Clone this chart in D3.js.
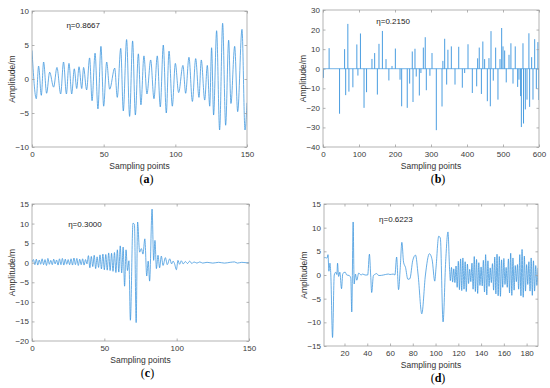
<!DOCTYPE html>
<html>
<head>
<meta charset="utf-8">
<script src="https://cdn.jsdelivr.net/npm/d3@7"></script>
<style>
  body { margin: 0; background: #fff; }
</style>
</head>
<body>
<div id="chart-area"></div>
<script>
// (a) extrema of the waveform, [sample, amplitude]
const aPoints = [[0,4.2],[3,-2.9],[4.6,1.9],[6.5,-2.4],[8.1,2.5],[10.2,-2.1],[12.3,1.0],[15.1,-1.2],[17.4,1.7],[20,-2.2],[22,2.5],[24,-2.2],[25.8,2.3],[27.7,-2.2],[29.5,1.5],[31.2,-1.4],[32.8,1.8],[34.7,-1.4],[36,1.7],[38.1,-1.6],[40.2,3.1],[41.9,-3.2],[44,3.8],[46,-4.4],[48.1,4.8],[50,-4.0],[52.1,2.5],[54.2,-1.5],[57.7,1.6],[59.5,-2.7],[61.9,4.5],[63.7,-4.7],[66,5.8],[68.1,-5.5],[70.2,5.6],[72.1,-5.3],[74.2,3.7],[76,-3.8],[78.1,3.4],[80.2,-2.2],[82.8,2.8],[85.1,-2.9],[87.4,3.4],[89.5,-4.1],[91.6,5.0],[93.7,-5.0],[95.6,4.1],[97.9,-4.0],[100,2.3],[102.3,-2.0],[105.3,2.0],[107.2,-2.1],[109.5,3.2],[111.9,-3.3],[114.2,3.0],[116.5,-2.7],[118.1,2.8],[120.5,-3.1],[122.3,2.0],[124,-4.0],[125.3,4.6],[126.7,-5.3],[128.8,7.1],[130.9,-7.5],[133,8.2],[135.1,-6.8],[137.2,5.7],[138.8,-3.6],[141.4,4.8],[143.5,-4.8],[146.5,7.3],[148.6,-7.5],[150,-3.5]]

// (b) spikes off the zero line, [sample, amplitude]
const bSpikes = [[1,-4.7],[17,10.5],[46,-23],[60,10],[63,-13.5],[69,22.9],[72,-11.7],[83,-9.5],[94,12.4],[97,-3.5],[104,18],[114,-20],[121,-12],[136,5],[143.5,8],[151,-13.2],[155.5,12.7],[165,19.3],[175,4.9],[183,-6],[191.7,1.4],[201,10.3],[214,-5.6],[218.5,-19.2],[234,-20],[240.7,-7.6],[248,8.8],[250,-17],[255.5,10.2],[259,-4],[267.6,-13.7],[272,-2.2],[278.7,10.8],[284,16.1],[287,-11],[297,-3.6],[302.8,8],[314.8,-31.4],[330.6,-19.3],[333,4],[338,15.3],[343.5,-8.1],[347,9.7],[356.5,11.4],[366.7,-8.1],[377,11.2],[387,-9.7],[393.5,-2.2],[402.8,12.5],[414.8,-12.4],[426.9,-9],[429.6,5.3],[434,10.8],[440,-12.9],[444,13.9],[449,4.9],[456.5,-16.6],[461,5.4],[464.8,-19.2],[466.7,19.2],[473,-6.1],[479.6,10.8],[486,-15.8],[491.7,4.9],[496.3,20.8],[500,11.4],[504.6,9.3],[509,-7],[516.7,7.1],[522,13],[527.8,-7.6],[534,11.4],[540.7,-9.3],[544.4,-5.6],[549,-14],[551,-29.8],[555.5,13],[557,-28],[562,-20.8],[566.7,-15.8],[572,18.1],[574,-19.5],[579.6,5.9],[583.3,-15.8],[588,15.1],[592.6,-10.3],[597,13.6],[599.5,-16]]

// (c) waveform, [sample, amplitude]
const cPoints = [[0,0.2],[1,0.8],[2,-0.5],[3,0.9],[4,-0.6],[5,0.7],[6,-0.4],[7,1.0],[8,-0.5],[9,0.8],[10,-0.7],[11,1.1],[12,-0.4],[13,0.6],[14,-0.5],[15,0.9],[16,-0.3],[17,0.7],[18,-0.6],[19,1.0],[20,-0.5],[21,1.1],[22,-0.6],[23,0.9],[24,-0.4],[25,0.8],[26,-0.5],[27,1.0],[28,-0.6],[29,1.2],[30,-0.5],[31,1.1],[32,-0.7],[33,0.9],[34,-0.5],[35,1.0],[36,-0.6],[37,0.8],[38,-0.3],[39,1.8],[40,-1.3],[41,1.6],[42,-1.0],[43,1.9],[44,-1.5],[45,1.5],[46,-1.2],[47,2.0],[48,-1.6],[49,2.2],[50,-1.8],[51,2.1],[52,-1.9],[53,2.5],[54,-2.0],[55,2.4],[56,-2.2],[57,2.6],[58,-2.5],[59,3.3],[60,-2.4],[61,4.3],[62,-2.6],[63,4.0],[64,-6.0],[65,3.3],[66,-2.0],[67,0.5],[68,-14.7],[69.8,10.1],[70.8,9.8],[72,-15.3],[73,10.4],[74.4,2.7],[75.6,3.6],[76.7,2.2],[78,6.1],[79.3,-3.4],[80.3,0.4],[81.3,-4.7],[83,13.7],[84.1,0.6],[85,5.7],[86,-1.5],[87.1,1.9],[88.2,-1.3],[89.4,1.7],[90.6,-0.7],[92.2,1.3],[93.5,-0.5],[95.2,1.0],[96.5,-0.3],[97.5,0.4],[98.5,-0.2],[99.8,-1.8],[100.9,0.6],[102,-0.4],[103.2,0.5],[104.5,-0.3],[106,0.3],[107.5,-0.2],[109,0.4],[110.5,-0.2],[112,0.2],[114,-0.1],[116,0.2],[118,-0.1],[121,0.1],[125,-0.1],[129,0.1],[133,-0.1],[137,0.1],[140,0.2],[142,-0.1],[145,0.1],[148,0],[150,0]]

// (d) waveform, [sample, amplitude]
const dPoints = [[2,3.6],[3,3.7],[4,3.6],[5,3.7],[5.5,4.3],[6.3,0.8],[7.2,2.5],[8,0],[9.5,-13.2],[11,0],[12.4,0.6],[13.3,0.1],[13.9,2.5],[14.8,-0.3],[15.9,0.6],[17.4,-2.9],[18.5,0.3],[20.6,0.6],[22,0],[24.1,-0.1],[25.5,-0.6],[26.4,-7.8],[27.6,11.2],[28.5,-1.9],[29.6,0.2],[30.8,-1.1],[32.5,0.4],[34.6,0],[36,0.2],[38.1,0],[40.4,0],[41.9,4.4],[43,0],[43.9,-3.7],[45.4,-0.1],[46.5,0.1],[48.3,0.3],[50,-0.1],[51.2,-0.1],[54.1,0],[56,0.1],[58.5,0.2],[60,0.1],[62.8,0.2],[64.3,0],[65.8,3.8],[67.5,-3.1],[69,1.6],[70.4,6.9],[71.9,2.7],[73.6,1.6],[75.7,-0.9],[77.4,-0.8],[80,3.1],[82.4,4.2],[84.7,0],[87.9,-8.2],[91.1,0],[94.6,4.5],[97,3.2],[99.3,-1.3],[100.4,1.5],[102.8,8.2],[104.2,7.8],[106.6,-9.9],[108.9,2.9],[110.9,9.1],[112.4,0.8],
  [113,-1.2],[114,1.6],[115,-1.5],[116,1.3],[117,-1.6],[118,1.9],[119,-2.6],[120,2.9],[121,-3.1],[122,3.4],[123,-3.3],[124,3.6],[125,-3.0],[126,2.8],[127,-3.5],[128,2.3],[129,-1.8],[130,1.2],[131,-1.4],[132,2.5],[133,-3.0],[134,3.9],[135,-3.5],[136,3.3],[137,-3.9],[138,2.6],[139,-2.2],[140,1.7],[141,-2.3],[142,3.1],[143,-3.6],[144,4.3],[145,-4.2],[146,3.0],[147,-2.4],[148,1.5],[149,-1.6],[150,2.4],[151,-3.2],[152,3.8],[153,-4.0],[154,4.4],[155,-4.4],[156,3.9],[157,-4.5],[158,3.2],[159,-2.6],[160,3.5],[161,-2.0],[162,1.6],[163,-2.6],[164,3.4],[165,-3.8],[166,4.6],[167,-4.3],[168,3.6],[169,-3.2],[170,2.0],[171,-1.4],[172,2.2],[173,-3.0],[174,4.3],[175,-4.4],[176,5.4],[177,-4.7],[178,4.0],[179,-3.4],[180,2.2],[181,-2.0],[182,2.8],[183,-3.4],[184,3.6],[185,-4.3],[186,3.0],[187,-3.4],[188,2.0],[189,-2.2],[190,1.5]]

// tick values
const aXTicks = [0, 50, 100, 150]
const aYTicks = [-10, -5, 0, 5, 10]
const bXTicks = [0, 100, 200, 300, 400, 500, 600]
const bYTicks = [-40, -30, -20, -10, 0, 10, 20, 30]
const cXTicks = [0, 50, 100, 150]
const cYTicks = [-20, -15, -10, -5, 0, 5, 10, 15]
const dXTicks = [20, 40, 60, 80, 100, 120, 140, 160, 180]
const dYTicks = [-15, -10, -5, 0, 5, 10, 15]

const etaLabels = ["η=0.8667", "η=0.2150", "η=0.3000", "η=0.6223"]
const panelNames = ["a", "b", "c", "d"]

const SANS = "'Liberation Sans', Arial, sans-serif"
const SERIF = "'Liberation Serif', 'Times New Roman', serif"
const LINE = "#3592dc"
const AXIS = "#a0a0a0"

const svg = d3.select("#chart-area").append("svg")
  .attr("width", 550)
  .attr("height", 388)

function styleAxis(sel, showText) {
  sel.select(".domain").remove()
  sel.selectAll(".tick line").attr("stroke", AXIS).attr("stroke-width", 0.8)
  if (!showText) sel.selectAll(".tick text").remove()
  sel.selectAll(".tick text")
    .attr("fill", "#3a3a3a")
    .attr("font-size", "8px")
    .attr("font-family", SANS)
}

function panel(p, i) {
  const g = svg.append("g")

  const x = d3.scaleLinear().domain(p.xDomain).range([p.left, p.right])
  const y = d3.scaleLinear().domain(p.yDomain).range([p.bottom, p.top])

  g.append("clipPath").attr("id", "clip" + i)
    .append("rect")
    .attr("x", p.left).attr("y", p.top)
    .attr("width", p.right - p.left).attr("height", p.bottom - p.top)

  const plot = g.append("g").attr("clip-path", `url(#clip${i})`)
  p.draw(plot, x, y)

  // inward ticks on all four sides, labels bottom and left
  g.append("g").attr("transform", `translate(0,${p.bottom})`)
    .call(d3.axisBottom(x).tickValues(p.xTicks).tickSizeInner(-2.5).tickSizeOuter(0).tickPadding(4))
    .call(s => styleAxis(s, true))
  g.append("g").attr("transform", `translate(0,${p.top})`)
    .call(d3.axisTop(x).tickValues(p.xTicks).tickSizeInner(-2.5).tickSizeOuter(0))
    .call(s => styleAxis(s, false))
  g.append("g").attr("transform", `translate(${p.left},0)`)
    .call(d3.axisLeft(y).tickValues(p.yTicks).tickSizeInner(-2.5).tickSizeOuter(0).tickPadding(3))
    .call(s => styleAxis(s, true))
  g.append("g").attr("transform", `translate(${p.right},0)`)
    .call(d3.axisRight(y).tickValues(p.yTicks).tickSizeInner(-2.5).tickSizeOuter(0))
    .call(s => styleAxis(s, false))

  g.append("rect")
    .attr("x", p.left).attr("y", p.top)
    .attr("width", p.right - p.left).attr("height", p.bottom - p.top)
    .attr("fill", "none").attr("stroke", AXIS).attr("stroke-width", 0.8)

  // eta annotation at data coordinates
  g.append("text")
    .attr("x", x(p.eta[0])).attr("y", y(p.eta[1]))
    .attr("font-size", "8px").attr("font-family", SANS).attr("fill", "#222")
    .text(etaLabels[i])

  // X label
  g.append("text")
    .attr("x", (p.left + p.right) / 2)
    .attr("y", p.bottom + 22)
    .attr("text-anchor", "middle")
    .attr("font-size", "8.5px").attr("font-family", SANS).attr("fill", "#333")
    .text("Sampling points")

  // Y label
  g.append("text")
    .attr("x", -(p.top + p.bottom) / 2)
    .attr("y", p.left - 17)
    .attr("transform", "rotate(-90)")
    .attr("text-anchor", "middle")
    .attr("font-size", "8.5px").attr("font-family", SANS).attr("fill", "#333")
    .text("Amplitude/m")

  // panel caption
  const cap = g.append("text")
    .attr("x", (p.left + p.right) / 2 + 7)
    .attr("y", p.bottom + 36)
    .attr("text-anchor", "middle")
    .attr("font-size", "12px").attr("font-family", SERIF).attr("fill", "#000")
  cap.append("tspan").text("(")
  cap.append("tspan").attr("font-weight", "bold").text(panelNames[i])
  cap.append("tspan").text(")")
}

function drawCurve(points) {
  return (plot, x, y) => {
    plot.append("path")
      .datum(points)
      .attr("fill", "none")
      .attr("stroke", LINE)
      .attr("stroke-width", 0.75)
      .attr("d", d3.line().x(d => x(d[0])).y(d => y(d[1])).curve(d3.curveMonotoneX))
  }
}

function drawSpikes(spikes) {
  return (plot, x, y) => {
    plot.append("line")
      .attr("x1", x(0)).attr("x2", x(600))
      .attr("y1", y(0)).attr("y2", y(0))
      .attr("stroke", LINE).attr("stroke-opacity", 0.55).attr("stroke-width", 1.3)
    plot.selectAll("line.spike").data(spikes).enter().append("line")
      .attr("class", "spike")
      .attr("x1", d => x(d[0])).attr("x2", d => x(d[0]))
      .attr("y1", y(0)).attr("y2", d => y(d[1]))
      .attr("stroke", LINE).attr("stroke-width", 0.9)
  }
}

const panels = [
  { left: 32, right: 247, top: 11, bottom: 147, xDomain: [0, 150], yDomain: [-10, 10],
    xTicks: aXTicks, yTicks: aYTicks, eta: [24, 7.5], draw: drawCurve(aPoints) },
  { left: 323, right: 539, top: 10, bottom: 147, xDomain: [0, 600], yDomain: [-40, 30],
    xTicks: bXTicks, yTicks: bYTicks, eta: [148, 22.9], draw: drawSpikes(bSpikes) },
  { left: 32, right: 249, top: 204, bottom: 341, xDomain: [0, 150], yDomain: [-20, 15],
    xTicks: cXTicks, yTicks: cYTicks, eta: [25, 9.2], draw: drawCurve(cPoints) },
  { left: 324, right: 538, top: 204, bottom: 346, xDomain: [2, 190], yDomain: [-15, 15],
    xTicks: dXTicks, yTicks: dYTicks, eta: [50.4, 11.3], draw: drawCurve(dPoints) }
]

panels.forEach(panel)
</script>
</body>
</html>
